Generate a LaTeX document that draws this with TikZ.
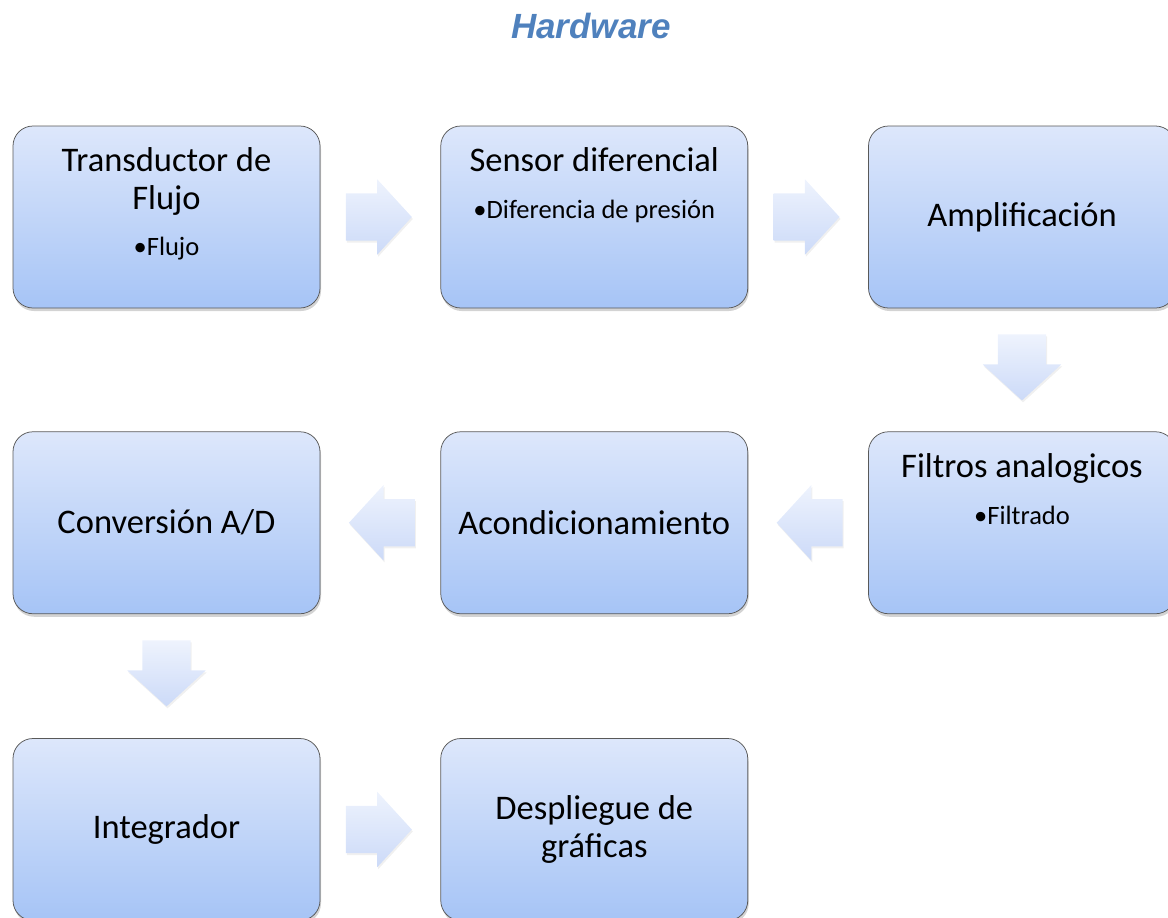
\documentclass[tikz,border=0pt]{standalone}
\usepackage{fontspec}
\setmainfont{Carlito}
\newfontfamily\titlefont{Liberation Sans}
\usepackage{tikz}
\usetikzlibrary{positioning,shapes.arrows,shadows}
\definecolor{boxtop}{RGB}{221,231,251}
\definecolor{boxbottom}{RGB}{166,196,246}
\definecolor{arrtop}{RGB}{238,243,253}
\definecolor{arrbottom}{RGB}{204,218,248}
\definecolor{titleblue}{RGB}{79,129,189}

\begin{document}
\begin{tikzpicture}[node distance=120pt,
  block/.style={draw=black!65, line width=0.75pt, rounded corners=20pt,
    top color=boxtop, bottom color=boxbottom, minimum width=307pt,
    minimum height=182pt, inner sep=0pt, align=center,
    drop shadow={shadow xshift=1pt, shadow yshift=-3pt, opacity=0.35},
    font=\fontsize{34.5}{38}\selectfont},
  head/.style={anchor=north, inner sep=0pt, align=center,
    font=\fontsize{34.5}{38}\selectfont},
  item/.style={anchor=base, inner sep=0pt, font=\fontsize{26.5}{30}\selectfont},
  flow/.style={single arrow, draw=none, top color=arrtop, bottom color=arrbottom,
    inner sep=0pt, text width=30pt, text height=23.5pt, text depth=23.5pt,
    minimum height=66pt, single arrow head extend=14pt,
    single arrow tip angle=95, anchor=tail, pos=0.21,
    drop shadow={shadow xshift=1pt, shadow yshift=-2pt, opacity=0.12}},
  flowdown/.style={flow, shape border rotate=270, text width=48pt,
    text height=15pt, text depth=15pt, single arrow head extend=15pt}]
  \useasboundingbox (0pt,0pt) rectangle (1168pt,-918pt);

  \node[font=\titlefont\bfseries\itshape\fontsize{35}{42}\selectfont,
    text=titleblue] (title) at (591pt,-26pt) {Hardware};

  % bloques
  \node[block] (trans) at (166.5pt,-217pt) {};
  \node[block, right=of trans] (sensor) {};
  \node[block, right=of sensor] (ampl) {Amplificación};
  \node[block, below=123pt of ampl] (filt) {};
  \node[block, left=of filt] (acond) {Acondicionamiento};
  \node[block, left=of acond] (conv) {Conversión A/D};
  \node[block, below=124pt of conv] (integ) {Integrador};
  \node[block, right=of integ] (despl) {Despliegue de\\gráficas};

  % textos con viñeta
  \node[head] (transhead) at ([yshift=-22pt]trans.north) {Transductor de\\Flujo};
  \node[item] (transitem) at ([yshift=-130pt]trans.north) {•Flujo};
  \node[head] (sensorhead) at ([yshift=-22pt]sensor.north) {Sensor diferencial};
  \node[item] (sensoritem) at ([yshift=-93pt]sensor.north) {•Diferencia de presión};
  \node[head] (filthead) at ([yshift=-22pt]filt.north) {Filtros analogicos};
  \node[item] (filtitem) at ([yshift=-93pt]filt.north) {•Filtrado};

  % flechas
  \path (trans.east) -- node[flow] (f1) {} (sensor.west);
  \path (sensor.east) -- node[flow] (f2) {} (ampl.west);
  \path (ampl.south) -- node[flowdown] (f3) {} (filt.north);
  \path (filt.west) -- node[flow, shape border rotate=180] (f4) {} (acond.east);
  \path (acond.west) -- node[flow, shape border rotate=180] (f5) {} (conv.east);
  \path (conv.south) -- node[flowdown] (f6) {} (integ.north);
  \path (integ.east) -- node[flow] (f7) {} (despl.west);
\end{tikzpicture}
\end{document}
